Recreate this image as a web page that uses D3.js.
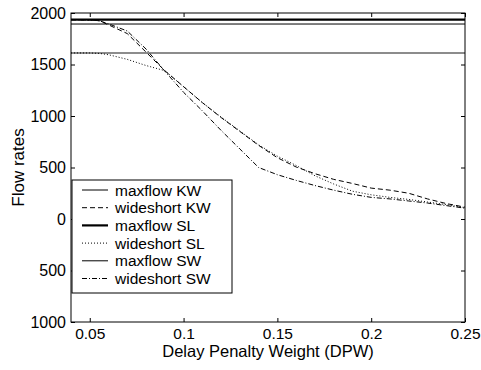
<!DOCTYPE html>
<html><head><meta charset="utf-8">
<script src="https://cdn.jsdelivr.net/npm/d3@7"></script>
<style>body{margin:0;background:#fff}svg text{font-family:"Liberation Sans",Arial,sans-serif;fill:#000}</style>
</head><body><svg id="c" width="481" height="370"></svg>
<script>
const xTicks = [0.05, 0.1, 0.15, 0.2, 0.25];
const xTickLabels = ["0.05", "0.1", "0.15", "0.2", "0.25"];
const yTicks = [2000, 1500, 1000, 500, 0, -500, -1000];
const yTickLabels = ["2000", "1500", "1000", "500", "0", "500", "1000"];
const seriesNames = ["maxflow KW", "wideshort KW", "maxflow SL", "wideshort SL", "maxflow SW", "wideshort SW"];
const maxflowKW = 1893;
const maxflowSL = 1935;
const maxflowSW = 1612;
const dpw = [0.04, 0.05, 0.055, 0.06, 0.07, 0.08, 0.09, 0.10, 0.11, 0.12, 0.13, 0.14, 0.15, 0.16, 0.17, 0.18, 0.19, 0.20, 0.21, 0.22, 0.23, 0.24, 0.25];
const wideshortKW = [1935, 1932, 1925, 1885, 1800, 1620, 1440, 1285, 1130, 985, 850, 715, 595, 505, 440, 385, 345, 300, 280, 250, 195, 150, 115];
const wideshortSL = [1612, 1612, 1608, 1595, 1550, 1490, 1440, 1285, 1130, 990, 855, 720, 610, 520, 420, 340, 270, 235, 210, 190, 165, 140, 110];
const wideshortSW = [1935, 1932, 1925, 1895, 1825, 1650, 1435, 1230, 1050, 860, 680, 500, 430, 375, 325, 280, 240, 210, 195, 175, 155, 130, 105];

const svg = d3.select("#c");
const L = 71, R = 465, T = 13, B = 322;
const x = d3.scaleLinear().domain([0.04, 0.25]).range([L, R]);
const y = d3.scaleLinear().domain([-1000, 2000]).range([B, T]);

const styles = [
  {w: 1, dash: null},
  {w: 1, dash: "5,3"},
  {w: 2.2, dash: null},
  {w: 1, dash: "1,2"},
  {w: 1, dash: null},
  {w: 1, dash: "5,2,1,2"}
];

const g = svg.append("g");
const hl = [[maxflowKW, 0], [maxflowSL, 2], [maxflowSW, 4]];
hl.forEach(([v, i]) => {
  g.append("line").attr("x1", L).attr("x2", R).attr("y1", y(v)).attr("y2", y(v))
    .attr("stroke", i === 4 ? "#666" : "#000").attr("stroke-width", i === 4 ? 1.4 : styles[i].w);
});
const line = d3.line().x((d, i) => x(dpw[i])).y(d => y(d));
[[wideshortKW, 1], [wideshortSL, 3], [wideshortSW, 5]].forEach(([data, i]) => {
  g.append("path").attr("d", line(data)).attr("fill", "none").attr("stroke", "#000")
    .attr("stroke-width", styles[i].w).attr("stroke-dasharray", styles[i].dash);
});

const ax = (gen, tr) => svg.append("g").attr("transform", tr).call(gen).call(s => s.select(".domain").remove());
const xb = ax(d3.axisBottom(x).tickValues(xTicks).tickSize(-4).tickFormat((d, i) => xTickLabels[i]).tickPadding(6), `translate(0,${B})`);
xb.selectAll("text").style("font-size", "15.5px");
ax(d3.axisTop(x).tickValues(xTicks).tickSize(-4).tickFormat(""), `translate(0,${T})`);
const yl = ax(d3.axisLeft(y).tickValues(yTicks).tickSize(-4).tickFormat((d, i) => yTickLabels[i]).tickPadding(5), `translate(${L},0)`);
yl.selectAll("text").style("font-size", "16px");
ax(d3.axisRight(y).tickValues(yTicks).tickSize(-4).tickFormat(""), `translate(${R},0)`);
svg.selectAll(".tick line").attr("stroke", "#000");
svg.append("rect").attr("x", L).attr("y", T).attr("width", R - L).attr("height", B - T)
  .attr("fill", "none").attr("stroke", "#000").attr("stroke-width", 1);

const lg = svg.append("g");
lg.append("rect").attr("x", 72).attr("y", 180).attr("width", 160).attr("height", 113)
  .attr("fill", "#fff").attr("stroke", "#000").attr("stroke-width", 1);
seriesNames.forEach((n, i) => {
  const yy = 190 + i * 17.7;
  const s = styles[i];
  lg.append("line").attr("x1", 82).attr("x2", 108).attr("y1", yy).attr("y2", yy)
    .attr("stroke", "#000").attr("stroke-width", s.w).attr("stroke-dasharray", s.dash);
  lg.append("text").attr("x", 115).attr("y", yy + 5.5).style("font-size", "15.5px").text(n);
});

svg.append("text").attr("x", (L + R) / 2).attr("y", 357).attr("text-anchor", "middle")
  .style("font-size", "16.5px").text("Delay Penalty Weight (DPW)");
svg.append("text").attr("transform", `translate(24,${(T + B) / 2}) rotate(-90)`).attr("text-anchor", "middle")
  .style("font-size", "17px").text("Flow rates");
</script></body></html>
